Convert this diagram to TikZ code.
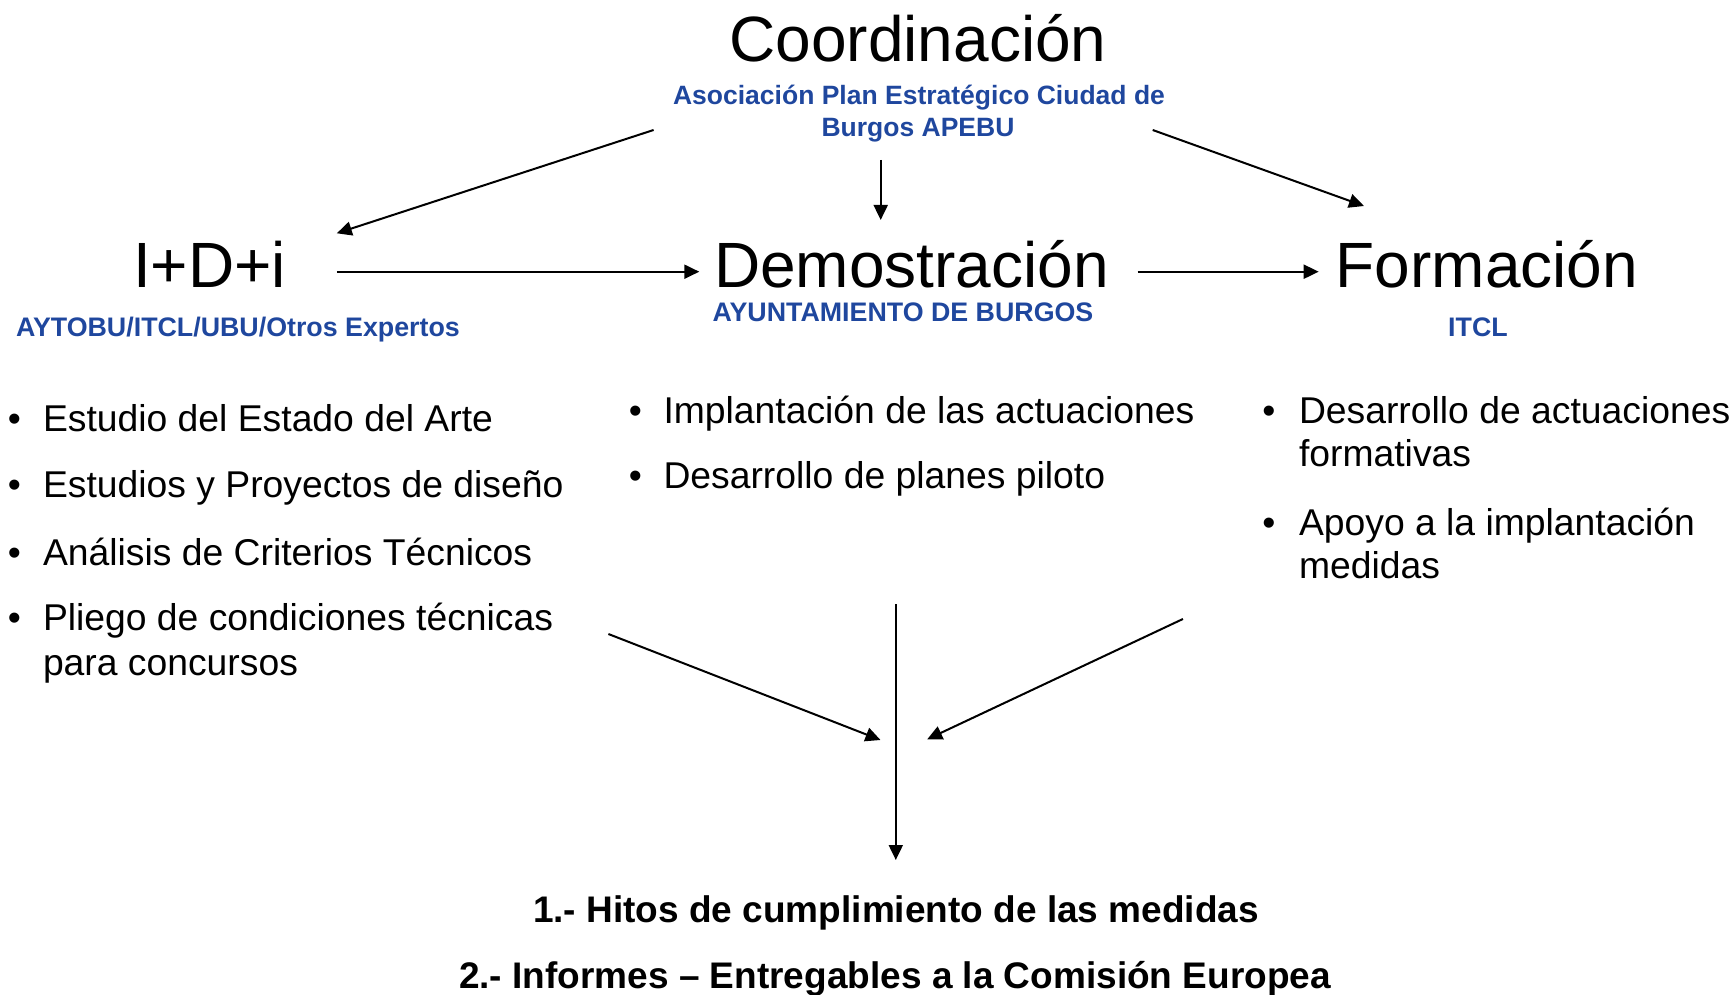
\documentclass[tikz,border=0pt]{standalone}
\usepackage{fontspec}
\setmainfont{Liberation Sans}
\usetikzlibrary{arrows.meta}
\definecolor{bluetxt}{RGB}{31,71,158}
\begin{document}
\begin{tikzpicture}[x=1pt,y=-1pt,
  every node/.style={inner sep=0pt,outer sep=0pt},
  title/.style={anchor=base,font=\fontsize{64}{76}\selectfont},
  org/.style={anchor=base,text=bluetxt,font=\fontsize{26.8}{32}\selectfont\bfseries},
  orgsmall/.style={org,font=\fontsize{26.5}{32}\selectfont\bfseries},
  item/.style={anchor=base west,font=\fontsize{37.3}{44}\selectfont},
  bul/.style={anchor=base,font=\fontsize{37.3}{44}\selectfont},
  result/.style={anchor=base,font=\fontsize{37}{45}\selectfont\bfseries},
  conn/.style={line width=2pt,-{Triangle[length=15pt,width=14pt]}}]
\useasboundingbox (0,0) rectangle (1735,995);

% titles
\node[title] (coord) at (918,61.7) {Coordinación};
\node[orgsmall] (apebuA) at (919,105) {Asociación Plan Estratégico Ciudad de};
\node[orgsmall] (apebuB) at (918,136.7) {Burgos APEBU};
\node[title] (idi) at (209.5,287.3) {I+D+i};
\node[title] (demo) at (911.5,287.3) {Demostración};
\node[title] (form) at (1487,287.3) {Formación};
\node[org] (aytobu) at (238,336.7) {AYTOBU/ITCL/UBU/Otros Expertos};
\node[org] (ayunt) at (903,321.7) {AYUNTAMIENTO DE BURGOS};
\node[org] (itcl) at (1478,336.7) {ITCL};

% left column
\node[bul] (bl1) at (14.5,431) {•};
\node[item] (l1) at (43,431) {Estudio del Estado del Arte};
\node[bul] (bl2) at (14.5,497.7) {•};
\node[item] (l2) at (43,497.7) {Estudios y Proyectos de diseño};
\node[bul] (bl3) at (14.5,565) {•};
\node[item] (l3) at (43,565) {Análisis de Criterios Técnicos};
\node[bul] (bl4) at (14.5,630) {•};
\node[item] (l4a) at (43,630) {Pliego de condiciones técnicas};
\node[item] (l4b) at (43,675) {para concursos};

% middle column
\node[bul] (bm1) at (635.5,423.3) {•};
\node[item] (m1) at (663.5,423.3) {Implantación de las actuaciones};
\node[bul] (bm2) at (635.5,488.3) {•};
\node[item] (m2) at (663.5,488.3) {Desarrollo de planes piloto};

% right column
\node[bul] (br1) at (1269,423.3) {•};
\node[item] (r1a) at (1299,423.3) {Desarrollo de actuaciones};
\node[item] (r1b) at (1299,466.7) {formativas};
\node[bul] (br2) at (1269,535) {•};
\node[item] (r2a) at (1299,535) {Apoyo a la implantación};
\node[item] (r2b) at (1299,578.3) {medidas};

% results
\node[result] (res1) at (896,922) {1.- Hitos de cumplimiento de las medidas};
\node[result] (res2) at (895,988) {2.- Informes – Entregables a la Comisión Europea};

% connector end points
\coordinate (cLs) at (653.6,130);
\coordinate (cLe) at (336.8,233.3);
\coordinate (cDs) at (880.7,160);
\coordinate (cDe) at (880.7,220);
\coordinate (cRs) at (1152.7,130);
\coordinate (cRe) at (1364,206);
\coordinate (hAs) at (336.8,271.7);
\coordinate (hAe) at (699.3,271.7);
\coordinate (hBs) at (1137.7,271.7);
\coordinate (hBe) at (1318.7,271.7);
\coordinate (vLs) at (608.4,634);
\coordinate (vLe) at (880.5,740);
\coordinate (vMs) at (895.8,604);
\coordinate (vMe) at (895.8,860);
\coordinate (vRs) at (1182.9,619);
\coordinate (vRe) at (927.2,739.3);

\draw[conn] (cLs) -- (cLe);
\draw[conn] (cDs) -- (cDe);
\draw[conn] (cRs) -- (cRe);
\draw[conn] (hAs) -- (hAe);
\draw[conn] (hBs) -- (hBe);
\draw[conn] (vLs) -- (vLe);
\draw[conn] (vMs) -- (vMe);
\draw[conn] (vRs) -- (vRe);
\end{tikzpicture}
\end{document}
